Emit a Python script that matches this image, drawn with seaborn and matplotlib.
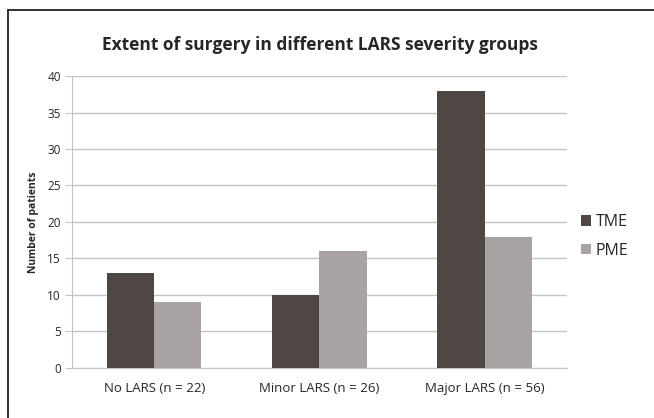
import matplotlib
matplotlib.use("Agg")
import matplotlib.pyplot as plt
import seaborn as sns
import pandas as pd
from matplotlib.lines import Line2D

# -------------------------------------------------------
# DATA
# -------------------------------------------------------
groups = ["No LARS (n = 22)", "Minor LARS (n = 26)", "Major LARS (n = 56)"]
tme = [13, 10, 38]
pme = [9, 16, 18]
y_ticks = [0, 5, 10, 15, 20, 25, 30, 35, 40]

df = pd.DataFrame({
    "group": groups * 2,
    "surgery": ["TME"] * len(groups) + ["PME"] * len(groups),
    "patients": tme + pme,
})

# -------------------------------------------------------
# PLOT
# -------------------------------------------------------
sns.set_style("white")
plt.rcParams["font.family"] = ["Open Sans", "DejaVu Sans"]

fig = plt.figure(figsize=(6.54, 4.18), dpi=100)
ax = fig.add_axes([0.110, 0.120, 0.757, 0.698])

sns.barplot(
    data=df, x="group", y="patients", hue="surgery",
    palette={"TME": "#4f4744", "PME": "#a9a3a3"},
    width=0.57, saturation=1, linewidth=0, ax=ax, zorder=3,
)

ax.set_ylim(0, 40)
ax.set_yticks(y_ticks)
ax.yaxis.grid(True, color="#c9c3c3", linewidth=1, zorder=0)
ax.xaxis.grid(False)
for side in ["top", "right"]:
    ax.spines[side].set_visible(False)
ax.spines["left"].set_color("#c9c3c3")
ax.spines["bottom"].set_color("#c9c3c3")
ax.tick_params(axis="y", length=5, color="#c9c3c3", labelsize=8.5, pad=3, left=True)
ax.tick_params(axis="x", length=0, labelsize=9.5, pad=10)
ax.set_xlabel("")
ax.set_ylabel("Number of patients", fontsize=7.5, fontweight="bold", labelpad=6)

ax.set_title("Extent of surgery in different LARS severity groups",
             fontsize=12.5, fontweight="bold", pad=19)

leg = ax.legend(loc="center left", bbox_to_anchor=(1.0, 0.45), frameon=False,
                fontsize=11.5, handlelength=0.6, handleheight=0.6,
                handletextpad=0.3, labelspacing=0.8)

# outer frame (cut at right and bottom)
fig.add_artist(Line2D([8 / 654, 8 / 654], [0, 1 - 10 / 418],
                      transform=fig.transFigure, color="#222222", linewidth=1.3))
fig.add_artist(Line2D([8 / 654, 1], [1 - 10 / 418, 1 - 10 / 418],
                      transform=fig.transFigure, color="#222222", linewidth=1.3))

fig.savefig("out.png", dpi=100)
